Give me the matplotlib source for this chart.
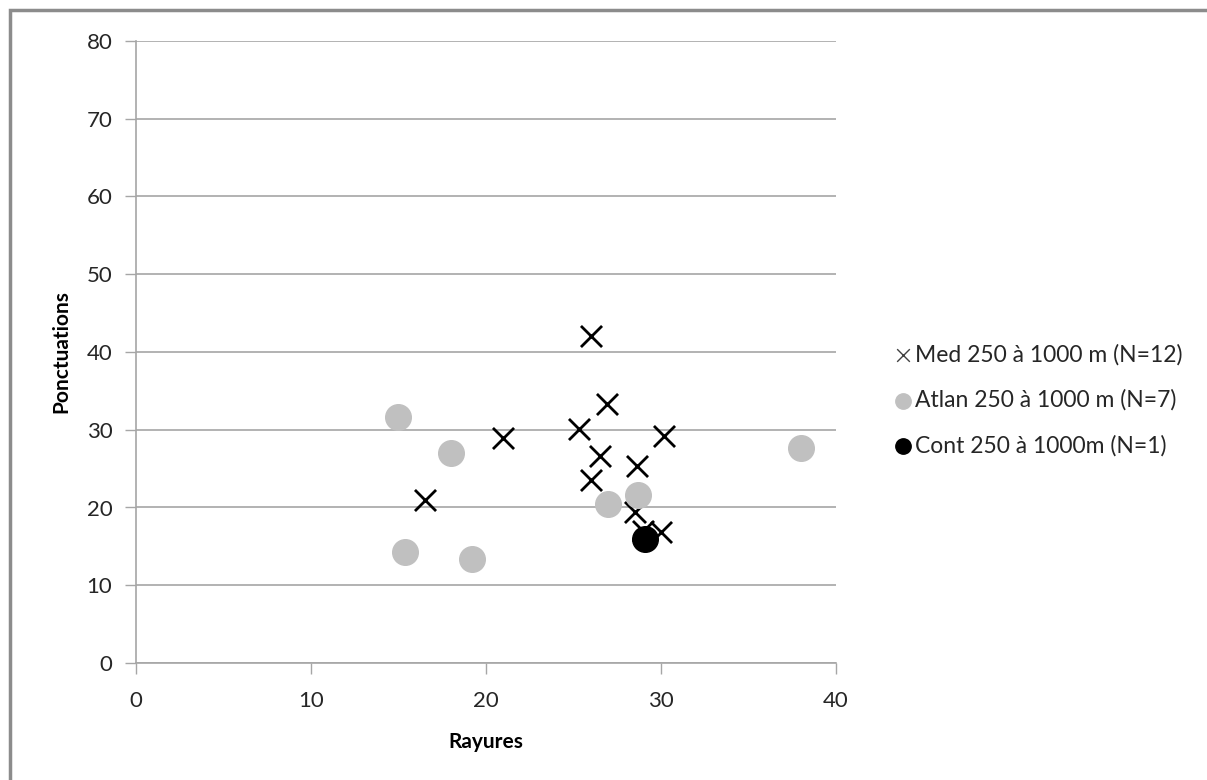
import matplotlib.pyplot as plt
from matplotlib.patches import Rectangle

# Rayures (x) / Ponctuations (y)
med_x = [26.0, 26.9, 25.3, 30.2, 26.5, 28.6, 26.0, 28.5, 30.0, 29.0, 16.5, 21.0]
med_y = [42.0, 33.3, 30.1, 29.2, 26.6, 25.3, 23.5, 19.4, 16.9, 17.0, 21.0, 29.0]
atlan_x = [15.0, 18.0, 15.4, 19.2, 27.0, 28.7, 38.0]
atlan_y = [31.7, 27.0, 14.3, 13.4, 20.5, 21.6, 27.7]
cont_x = [29.1]
cont_y = [16.0]

labels = ["Med 250 à 1000 m (N=12)", "Atlan 250 à 1000 m (N=7)", "Cont 250 à 1000m (N=1)"]
x_ticks = [0, 10, 20, 30, 40]
y_ticks = [0, 10, 20, 30, 40, 50, 60, 70, 80]

plt.rcParams["font.family"] = ["Lato", "DejaVu Sans"]

fig = plt.figure(figsize=(12.07, 7.80), dpi=100)
ax = fig.add_axes([136 / 1207, 117 / 780, 700 / 1207, 622 / 780])

# chart-area border (cropped on the right and bottom)
fig.patches.append(Rectangle((10 / 1207, -0.1), 1.2, (770 / 780) + 0.1,
                             transform=fig.transFigure, fill=False,
                             edgecolor="#8c8c8c", linewidth=2.5))

ax.scatter(med_x, med_y, marker="x", s=230, c="black", linewidths=2,
           label=labels[0], zorder=3)
ax.scatter(atlan_x, atlan_y, marker="o", s=340, c="#c0c0c0",
           label=labels[1], zorder=4)
ax.scatter(cont_x, cont_y, marker="o", s=340, c="black",
           label=labels[2], zorder=5)

ax.set_xlim(0, 40)
ax.set_ylim(0, 80)
ax.set_xticks(x_ticks)
ax.set_yticks(y_ticks)
ax.yaxis.grid(True, color="#a6a6a6", linewidth=1.2)
ax.set_axisbelow(True)
for side in ["top", "right"]:
    ax.spines[side].set_visible(False)
for side in ["left", "bottom"]:
    ax.spines[side].set_color("#a6a6a6")
    ax.spines[side].set_linewidth(1.2)
ax.tick_params(length=8, width=1, color="#a6a6a6", labelsize=16,
               labelcolor="#262626", pad=9)
ax.tick_params(axis="x", pad=12)

ax.set_xlabel("Rayures", fontsize=15, fontweight="bold", labelpad=15)
ax.set_ylabel("Ponctuations", fontsize=15, fontweight="bold", labelpad=11)

leg = ax.legend(loc="center left", bbox_to_anchor=(871 / 1207, 0.487),
                bbox_transform=fig.transFigure, frameon=False, fontsize=16.5,
                handletextpad=0.0, labelspacing=1.05, handlelength=1.0,
                markerscale=0.6)
leg.legend_handles[0].set_linewidth(1)
leg.legend_handles[0].set_color("#404040")
for t in leg.get_texts():
    t.set_color("#262626")

fig.savefig("out.png", dpi=100)
